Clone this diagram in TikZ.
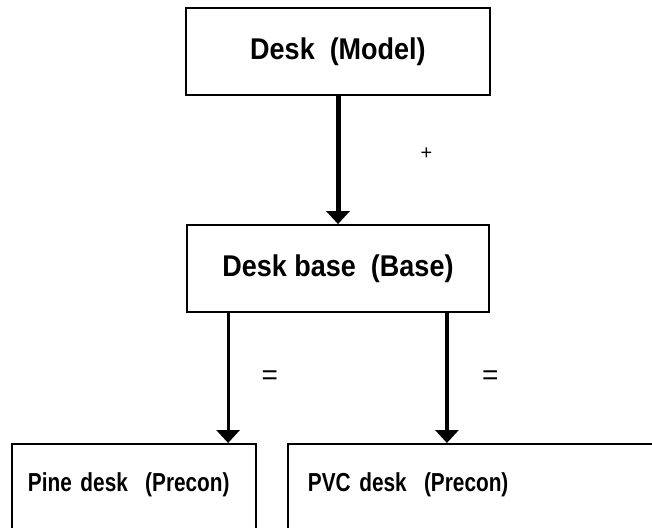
\documentclass[tikz,border=0pt]{standalone}
\usepackage{fontspec}
\setmainfont{Liberation Sans}
\newfontfamily\boxfont[FakeStretch=0.9]{Liberation Sans}
\newfontfamily\narrowfont[FakeStretch=0.8]{Liberation Sans}
\usetikzlibrary{arrows.meta}

\begin{document}
\begin{tikzpicture}[x=1pt,y=-1pt,line width=1.8pt,
                    >={Triangle[width=23pt,length=13pt]}]
  \tikzstyle{box}=[draw, rectangle, inner sep=0pt, minimum width=304pt,
                   minimum height=87pt,
                   font=\boxfont\fontsize{30}{32}\selectfont\bfseries]
  \tikzstyle{leaf}=[draw, rectangle, anchor=north west, align=left,
                    inner ysep=0pt, text height=48pt, text depth=110pt,
                    font=\narrowfont\fontsize{26}{28}\selectfont\bfseries]
  \tikzstyle{sign}=[inner sep=0pt, font=\fontsize{20}{22}\selectfont]
  \tikzstyle{lab}=[inner sep=0pt, font=\fontsize{28}{30}\selectfont]

  \useasboundingbox (0,0) rectangle (652,527);
  \clip (0,0) rectangle (652,527);

  \node[box]                      (M) at (338,51.5)  {Desk\ \ (Model)};
  \node[box, minimum width=302pt] (B) at (338,268.5) {Desk base\ \ (Base)};
  \node[leaf, text width=212pt, inner xsep=16pt] (P) at (11,443)
        {Pine desk\ \ (Precon)};
  \node[leaf, text width=400pt, inner xsep=20pt] (V) at (287,443)
        {PVC desk\ \ (Precon)};

  \path[->, line width=5pt] (M) edge node[sign, pos=0.45, right=80pt] {+} (B);
  \draw[->, line width=3.2pt] ([xshift=42pt]B.south west)
        -- ([xshift=42pt]B.south west |- P.north)
        node[lab, midway, right=32pt] {=};
  \draw[->, line width=4.4pt] ([xshift=-43pt]B.south east)
        -- ([xshift=-43pt]B.south east |- V.north)
        node[lab, midway, right=33pt] {=};
\end{tikzpicture}
\end{document}
